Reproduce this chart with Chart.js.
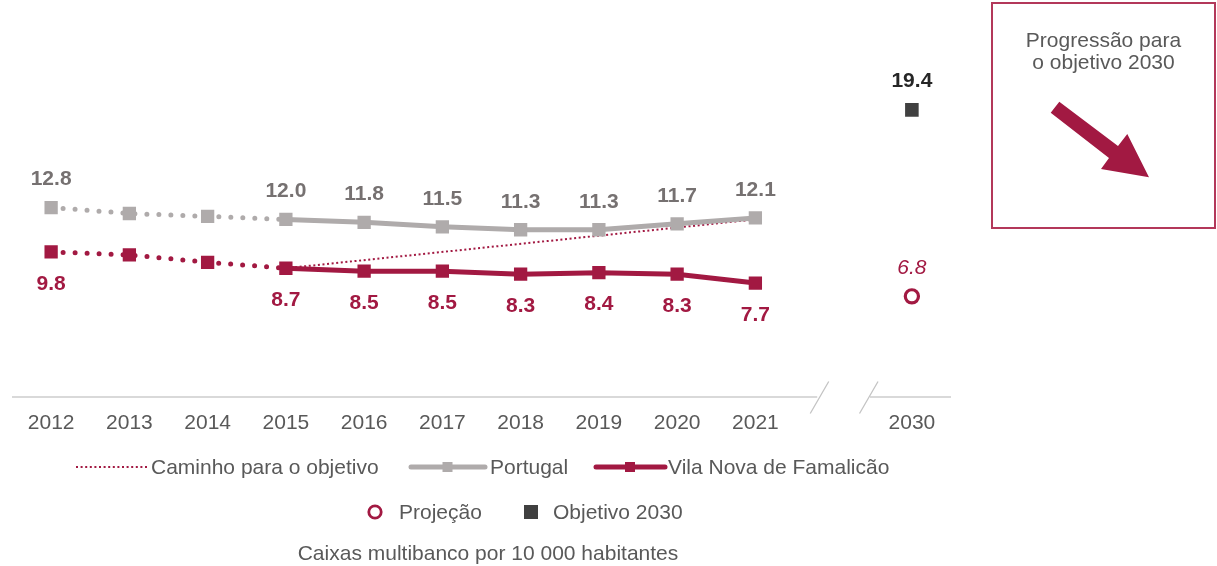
<!DOCTYPE html>
<html><head><meta charset="utf-8">
<script src="https://cdn.jsdelivr.net/npm/chart.js@4.4.0/dist/chart.umd.min.js"></script>
<style>
body{margin:0;background:#fff;font-family:"Liberation Sans",Arial,sans-serif;}
#wrap{position:absolute;left:0;top:0;width:1217px;height:566px;}
.lg{position:absolute;font-size:21px;color:#595959;line-height:24px;white-space:nowrap;}
.sw{position:absolute;overflow:visible;}
#box{position:absolute;left:991px;top:2px;width:225px;height:227px;box-sizing:border-box;border:2px solid #B3385A;}
#boxtxt{position:absolute;left:0;right:0;top:25px;text-align:center;font-size:21px;line-height:22px;color:#595959;}
#arrow{position:absolute;left:0;top:0;width:1217px;height:566px;pointer-events:none;}
</style></head><body>
<div id="wrap"><canvas id="c"></canvas></div>
<div id="legend"></div>
<div id="box"><div id="boxtxt">Progressão para<br>o objetivo 2030</div></div>
<svg id="arrow" viewBox="0 0 1217 566"><polygon points="1059.3,101.7 1118,146 1127.3,134 1149,177.3 1101,169 1109,158 1050.7,112.7" fill="#A21942"/></svg>
<script>
// ---- data ----
const years = ['2012','2013','2014','2015','2016','2017','2018','2019','2020','2021','','2030'];
const portugal = [12.8, 12.4, 12.2, 12.0, 11.8, 11.5, 11.3, 11.3, 11.7, 12.1];
const vilaNova = [9.8, 9.6, 9.1, 8.7, 8.5, 8.5, 8.3, 8.4, 8.3, 7.7];
const caminho  = [null, null, null, 8.7, null, null, null, null, null, 12.0];
const projecao = [null, null, null, null, null, null, null, null, null, null, null, 6.8];
const objetivo = [null, null, null, null, null, null, null, null, null, null, null, 19.4];
const seriesNames = ['Caminho para o objetivo', 'Portugal', 'Vila Nova de Famalicão', 'Projeção', 'Objetivo 2030'];
const caption = 'Caixas multibanco por 10 000 habitantes';

const RED = '#A21942', GREY = '#AFABAB', GREYTXT = '#767171', DARK = '#404040';
const dotted = ctx => ctx.p1DataIndex <= 3 ? [0, 12] : undefined;
const hideLabel = j => j === 1 || j === 2;

const labelPlugin = {
  id: 'vlabels',
  afterDatasetsDraw(chart) {
    const ctx = chart.ctx;
    chart.data.datasets.forEach((ds, i) => {
      const cfg = ds.labelCfg; if (!cfg) return;
      const meta = chart.getDatasetMeta(i);
      meta.data.forEach((pt, j) => {
        const v = ds.data[j];
        if (v == null || (cfg.skip && cfg.skip(j))) return;
        ctx.save();
        ctx.font = cfg.font; ctx.fillStyle = cfg.color;
        ctx.textAlign = 'center'; ctx.textBaseline = 'middle';
        ctx.fillText(v.toFixed(1), pt.x, pt.y + cfg.dy);
        ctx.restore();
      });
    });
  }
};

const axisPlugin = {
  id: 'brokenAxis',
  beforeDatasetsDraw(chart) {
    const {ctx, chartArea: a, scales: {x, y}} = chart;
    const y0 = y.getPixelForValue(0);
    const xa = x.getPixelForValue(9), xb = x.getPixelForValue(11);
    const c1 = xa + 0.408 * (xb - xa), c2 = xa + 0.723 * (xb - xa);
    ctx.save();
    ctx.strokeStyle = '#D9D9D9'; ctx.lineWidth = 2;
    ctx.beginPath();
    ctx.moveTo(a.left, y0); ctx.lineTo(c1 - 2, y0);
    ctx.moveTo(c2 + 1.5, y0); ctx.lineTo(a.right, y0);
    ctx.stroke();
    ctx.strokeStyle = '#C4C4C4'; ctx.lineWidth = 1.3;
    ctx.beginPath();
    [c1, c2].forEach(c => { ctx.moveTo(c - 9, y0 + 16.5); ctx.lineTo(c + 9.5, y0 - 15.5); });
    ctx.stroke();
    ctx.restore();
  }
};

new Chart(document.getElementById('c'), {
  type: 'line',
  data: {
    labels: years,
    datasets: [
      { label: seriesNames[0], data: caminho, spanGaps: true, borderColor: RED, borderWidth: 2,
        borderDash: [2, 2.6], pointRadius: 0, order: 3 },
      { label: seriesNames[1], data: portugal, borderColor: GREY, backgroundColor: GREY, borderWidth: 5,
        borderCapStyle: 'round', segment: { borderDash: dotted },
        pointStyle: 'rect', pointRadius: 9.4, pointBorderWidth: 0, pointBackgroundColor: GREY, order: 2,
        labelCfg: { font: 'bold 21px "Liberation Sans", Arial', color: GREYTXT, dy: -28, skip: hideLabel } },
      { label: seriesNames[2], data: vilaNova, borderColor: RED, backgroundColor: RED, borderWidth: 5,
        borderCapStyle: 'round', segment: { borderDash: dotted },
        pointStyle: 'rect', pointRadius: 9.4, pointBorderWidth: 0, pointBackgroundColor: RED, order: 1,
        labelCfg: { font: 'bold 21px "Liberation Sans", Arial', color: RED, dy: 32, skip: hideLabel } },
      { label: seriesNames[3], data: projecao, showLine: false, pointStyle: 'circle', pointRadius: 6.6,
        pointBorderWidth: 3.2, pointBorderColor: RED, pointBackgroundColor: '#fff', borderColor: RED, order: 0,
        labelCfg: { font: 'italic 21px "Liberation Sans", Arial', color: RED, dy: -28.5 } },
      { label: seriesNames[4], data: objetivo, showLine: false, pointStyle: 'rect', pointRadius: 9.6,
        pointBorderWidth: 0, pointBackgroundColor: DARK, borderColor: DARK, order: 0,
        labelCfg: { font: 'bold 21px "Liberation Sans", Arial', color: '#262626', dy: -28.5 } }
    ]
  },
  options: {
    responsive: true, maintainAspectRatio: false, animation: false,
    layout: { padding: { left: 12, right: 266, top: 27, bottom: 123.8 } },
    plugins: { legend: { display: false }, tooltip: { enabled: false } },
    scales: {
      x: { offset: true, grid: { display: false }, border: { display: false },
           ticks: { color: '#595959', padding: 6, font: { family: '"Liberation Sans", Arial', size: 21 }, maxRotation: 0, autoSkip: false } },
      y: { display: false, min: 0, max: 25 }
    }
  },
  plugins: [axisPlugin, labelPlugin]
});

// ---- legend (HTML) ----
const lg = document.getElementById('legend');
function add(html) { lg.insertAdjacentHTML('beforeend', html); }
function text(x, yc, t) { add(`<div class="lg" style="left:${x}px;top:${yc - 12}px">${t}</div>`); }
// row 1
add(`<svg class="sw" style="left:75px;top:462px" width="73" height="10"><line x1="1" y1="5" x2="72" y2="5" stroke="${RED}" stroke-width="2" stroke-dasharray="2 2.6"/></svg>`);
text(151, 467, seriesNames[0]);
add(`<svg class="sw" style="left:408px;top:460px" width="80" height="14"><line x1="3" y1="7" x2="77" y2="7" stroke="${GREY}" stroke-width="5" stroke-linecap="round"/><rect x="34.5" y="2" width="10" height="10" fill="${GREY}"/></svg>`);
text(490, 467, seriesNames[1]);
add(`<svg class="sw" style="left:593px;top:460px" width="75" height="14"><line x1="3" y1="7" x2="72" y2="7" stroke="${RED}" stroke-width="5" stroke-linecap="round"/><rect x="32" y="2" width="10" height="10" fill="${RED}"/></svg>`);
text(668, 467, seriesNames[2]);
// row 2
add(`<svg class="sw" style="left:366px;top:503px" width="18" height="18"><circle cx="9" cy="9" r="6.2" fill="#fff" stroke="${RED}" stroke-width="2.8"/></svg>`);
text(399, 512, seriesNames[3]);
add(`<svg class="sw" style="left:524px;top:505px" width="14" height="14"><rect x="0" y="0" width="14" height="14" fill="${DARK}"/></svg>`);
text(553, 512, seriesNames[4]);
// caption
add(`<div class="lg" style="left:0;width:976px;text-align:center;top:541px">${caption}</div>`);
</script>
</body></html>
